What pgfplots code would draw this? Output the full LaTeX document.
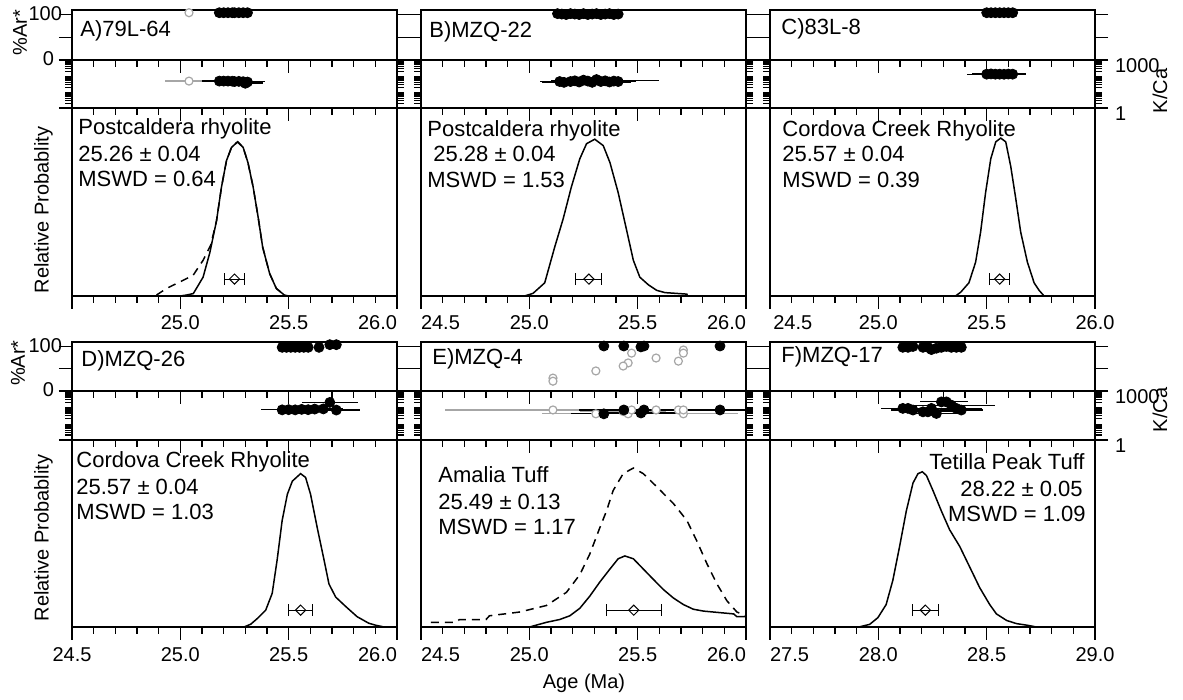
\documentclass[border=0pt]{standalone}
\usepackage{fontspec}
\setmainfont{Liberation Sans}
\usepackage{pgfplots}
\pgfplotsset{compat=1.18}

\newcommand\tf{\fontsize{10bp}{12bp}\selectfont}
\newcommand\tb{\fontsize{11bp}{13bp}\selectfont}

\pgfplotsset{
  panel/.style={scale only axis, width=162.5bp, anchor=north west,
    axis line style={line width=0.9bp},
    tick style={line width=0.6bp, black},
    tick align=outside, major tick length=6.5bp, minor tick length=3.5bp,
    xtick pos=bottom, ytick pos=both,
    xmin=24.5, xmax=26, xtick={24.5,25,25.5,26}, minor x tick num=4,
    xticklabels={}, yticklabels={}, ticklabel style={font=\tf}},
  late/.style={xmin=27.5, xmax=29, xtick={27.5,28,28.5,29}},
  ar/.style={panel, height=25bp, ymin=0, ymax=110, ytick={0,50,100}, clip=false},
  arlab/.style={yticklabel pos=left, yticklabels={{0\kern4bp},,100},
    yticklabel style={xshift=5bp, yshift=0.5bp}},
  kca/.style={panel, height=24bp, ymin=1, ymax=1000, ytick={1,1000},
    minor ytick={2,3,4,5,6,7,8,9,20,30,40,50,60,70,80,90,200,300,400,500,600,700,800,900}},
  kcalab/.style={yticklabel pos=right, yticklabels={1,1000}, yticklabel style={yshift=-3bp}},
  prob/.style={panel, height=94bp, ymin=0, ymax=1, ytick=\empty},
  blk/.style={only marks, mark=*, mark size=2.5bp, mark options={fill=black, draw=black}},
  gry/.style={only marks, mark=*, mark size=2bp,
    mark options={fill=white, draw=gray!70, line width=0.6bp}},
  blkbar/.style={blk, error bars/x dir=both, error bars/x explicit,
    error bars/error mark=none, error bars/error bar style={line width=0.6bp, black}},
  grybar/.style={gry, error bars/x dir=both, error bars/x explicit,
    error bars/error mark=none, error bars/error bar style={line width=0.6bp, gray!70}},
  dia/.style={only marks, mark=square, mark size=1.8bp,
    mark options={rotate=45, fill=white, draw=black, line width=0.5bp},
    error bars/x dir=both, error bars/x explicit, error bars/error mark=|,
    error bars/error mark options={line width=0.5bp, mark size=3bp, black},
    error bars/error bar style={line width=0.5bp, black}},
  pdf/.style={line width=0.75bp, black, no marks, sharp plot},
  pdfd/.style={pdf, dash pattern=on 4bp off 3bp},
}

\begin{document}
\begin{tikzpicture}
\useasboundingbox (0,0) rectangle (591.5bp,350bp);

% ---------- A) 79L-64
\begin{axis}[ar, arlab, at={(36bp,345bp)}]
\addplot[gry] coordinates {(25.04,104)};
\addplot[blk] coordinates {(25.18,104) (25.20,104) (25.22,104) (25.24,104) (25.25,104) (25.27,104) (25.29,104) (25.31,104)};
\end{axis}
\begin{semilogyaxis}[kca, at={(36bp,320bp)}]
\addplot[grybar] coordinates {(25.04,48) +- (0.11,0)};
\addplot[blkbar] coordinates {(25.18,48) +- (0.08,0) (25.20,48) +- (0.09,0) (25.22,48) +- (0.07,0)
  (25.24,47) +- (0.10,0) (25.25,45) +- (0.12,0) (25.27,46) +- (0.09,0) (25.29,44) +- (0.10,0)
  (25.30,35) +- (0.08,0) (25.31,42) +- (0.07,0)};
\end{semilogyaxis}
\begin{axis}[prob, at={(36bp,296bp)}, xticklabels={,25.0,25.5,{\llap{26.0}}}]
\addplot[pdfd] coordinates {(24.89,0.005) (24.936,0.04) (24.998,0.075) (25.059,0.11) (25.105,0.19)
  (25.14,0.27) (25.167,0.40) (25.19,0.58) (25.213,0.72) (25.236,0.79) (25.264,0.82) (25.29,0.79)
  (25.312,0.71) (25.336,0.58) (25.359,0.42) (25.38,0.26) (25.412,0.12) (25.443,0.04) (25.48,0.005)};
\addplot[pdf] coordinates {(25.00,0) (25.028,0.005) (25.06,0.013) (25.105,0.10) (25.136,0.23)
  (25.167,0.40) (25.19,0.58) (25.213,0.72) (25.236,0.79) (25.264,0.82) (25.29,0.79) (25.312,0.71)
  (25.336,0.58) (25.359,0.42) (25.38,0.26) (25.412,0.12) (25.443,0.04) (25.48,0.005) (25.50,0)};
\addplot[dia] coordinates {(25.25,0.09) +- (0.046,0)};
\end{axis}

% ---------- B) MZQ-22
\begin{axis}[ar, at={(210.5bp,345bp)}]
\addplot[blk] coordinates {(25.13,102) (25.15,101) (25.17,100) (25.19,102) (25.21,101) (25.23,100)
  (25.25,102) (25.27,100) (25.29,101) (25.31,102) (25.33,100) (25.35,101) (25.37,102) (25.39,100) (25.41,101)};
\end{axis}
\begin{semilogyaxis}[kca, at={(210.5bp,320bp)}]
\addplot[blkbar] coordinates {(25.14,45) +- (0.09,0) (25.16,40) +- (0.10,0) (25.19,45) +- (0.10,0)
  (25.21,50) +- (0.08,0) (25.23,42) +- (0.10,0) (25.25,55) +- (0.12,0) (25.27,48) +- (0.10,0)
  (25.29,40) +- (0.08,0) (25.31,60) +- (0.12,0) (25.33,45) +- (0.10,0) (25.35,50) +- (0.25,0)
  (25.37,42) +- (0.10,0) (25.39,48) +- (0.10,0) (25.41,45) +- (0.08,0)};
\end{semilogyaxis}
\begin{axis}[prob, at={(210.5bp,296bp)}, xticklabels={{\rlap{24.5}},25.0,25.5,{\llap{26.0}}}]
\addplot[pdf] coordinates {(24.978,0) (25.017,0.014) (25.071,0.07) (25.117,0.26) (25.156,0.41)
  (25.194,0.58) (25.233,0.73) (25.264,0.81) (25.302,0.834) (25.341,0.80) (25.372,0.71) (25.41,0.55)
  (25.449,0.35) (25.48,0.19) (25.51,0.10) (25.549,0.06) (25.588,0.03) (25.626,0.018) (25.727,0.01) (25.73,0)};
\addplot[dia] coordinates {(25.275,0.09) +- (0.06,0)};
\end{axis}

% ---------- C) 83L-8
\begin{axis}[ar, at={(385bp,345bp)}]
\addplot[blk] coordinates {(25.50,104) (25.52,104) (25.54,104) (25.56,104) (25.58,104) (25.60,104) (25.62,104)};
\end{axis}
\begin{semilogyaxis}[kca, kcalab, at={(385bp,320bp)}]
\addplot[blkbar] coordinates {(25.50,130) +- (0.09,0) (25.52,135) +- (0.09,0) (25.54,130) +- (0.08,0)
  (25.56,130) +- (0.10,0) (25.58,128) +- (0.09,0) (25.60,132) +- (0.08,0) (25.62,130) +- (0.06,0)};
\end{semilogyaxis}
\begin{axis}[prob, at={(385bp,296bp)}, xticklabels={{\rlap{\,24.5}},25.0,25.5,26.0}]
\addplot[pdf] coordinates {(25.356,0) (25.38,0.02) (25.418,0.07) (25.449,0.18) (25.472,0.34)
  (25.495,0.55) (25.519,0.73) (25.542,0.82) (25.565,0.84) (25.588,0.82) (25.611,0.69) (25.634,0.52)
  (25.657,0.34) (25.688,0.18) (25.719,0.07) (25.742,0.03) (25.765,0)};
\addplot[dia] coordinates {(25.56,0.09) +- (0.046,0)};
\end{axis}

% ---------- D) MZQ-26
\begin{axis}[ar, arlab, height=24.5bp, at={(36bp,179bp)}]
\addplot[blk] coordinates {(25.47,98) (25.49,98) (25.51,98) (25.53,98) (25.55,98) (25.57,98)
  (25.59,98) (25.64,98) (25.69,104) (25.72,104)};
\end{axis}
\begin{semilogyaxis}[kca, height=24.5bp, at={(36bp,154.5bp)}]
\addplot[blkbar] coordinates {(25.47,70) +- (0.10,0) (25.50,72) +- (0.12,0) (25.53,70) +- (0.08,0)
  (25.56,75) +- (0.10,0) (25.59,72) +- (0.10,0) (25.62,78) +- (0.08,0) (25.66,80) +- (0.09,0)
  (25.69,200) +- (0.13,0) (25.72,68) +- (0.11,0)};
\end{semilogyaxis}
\begin{axis}[prob, height=93.5bp, at={(36bp,130bp)}, xticklabels={24.5,25.0,25.5,{\llap{26.0}}}]
\addplot[pdf] coordinates {(25.294,0) (25.325,0.015) (25.355,0.045) (25.394,0.09) (25.424,0.18)
  (25.447,0.36) (25.47,0.57) (25.494,0.71) (25.517,0.78) (25.555,0.82) (25.578,0.80) (25.601,0.71)
  (25.632,0.53) (25.663,0.36) (25.686,0.23) (25.717,0.16) (25.763,0.11) (25.816,0.055) (25.87,0.02)
  (25.9,0.01) (25.94,0)};
\addplot[dia] coordinates {(25.555,0.09) +- (0.057,0)};
\end{axis}

% ---------- E) MZQ-4
\begin{axis}[ar, height=24.5bp, at={(210.5bp,179bp)}]
\addplot[gry] coordinates {(25.472,85) (25.711,92) (25.711,85) (25.456,63) (25.433,56) (25.585,74)
  (25.688,67) (25.307,45) (25.109,29) (25.109,22)};
\addplot[blk] coordinates {(25.344,101) (25.436,101) (25.515,99) (25.529,101) (25.88,101)};
\end{axis}
\begin{semilogyaxis}[kca, height=24.5bp, at={(210.5bp,154.5bp)}]
\addplot[grybar] coordinates {(25.109,69) +- (0.50,0) (25.307,40) +- (0.25,0) (25.456,40) +- (0.39,0)
  (25.472,69) +- (0.20,0) (25.585,69) +- (0.25,0) (25.688,69) +- (0.20,0) (25.711,40) +- (0.25,0)
  (25.711,69) +- (0.15,0) (25.433,55) +- (0.20,0)};
\addplot[blkbar] coordinates {(25.344,40) +- (0.15,0) (25.436,69) +- (0.20,0) (25.515,45) +- (0.20,0)
  (25.529,69) +- (0.30,0) (25.88,69) +- (0.35,0)};
\end{semilogyaxis}
\begin{axis}[prob, height=93.5bp, at={(210.5bp,130bp)}, xticklabels={{\rlap{24.5}},25.0,25.5,{\llap{26.0}}}]
\addplot[pdfd] coordinates {(24.546,0.025) (24.662,0.025) (24.677,0.04) (24.8,0.04) (24.816,0.06)
  (24.955,0.08) (25.079,0.115) (25.171,0.185) (25.233,0.28) (25.279,0.39) (25.325,0.53) (25.356,0.62)
  (25.387,0.73) (25.433,0.82) (25.48,0.85) (25.526,0.82) (25.588,0.75) (25.665,0.66) (25.727,0.57)
  (25.773,0.46) (25.819,0.34) (25.866,0.23) (25.912,0.14) (25.958,0.08) (26.0,0.06)};
\addplot[pdf] coordinates {(25.001,0) (25.079,0.025) (25.14,0.04) (25.187,0.06) (25.233,0.10)
  (25.279,0.165) (25.325,0.24) (25.372,0.31) (25.41,0.365) (25.441,0.38) (25.48,0.365) (25.526,0.31)
  (25.572,0.255) (25.619,0.20) (25.665,0.155) (25.711,0.12) (25.757,0.095) (25.804,0.085) (25.85,0.08)
  (25.943,0.07) (25.958,0.055) (26.0,0.055)};
\addplot[dia] coordinates {(25.482,0.09) +- (0.126,0)};
\end{axis}

% ---------- F) MZQ-17
\begin{axis}[ar, late, height=24.5bp, at={(385bp,179bp)}]
\addplot[blk] coordinates {(28.113,98) (28.137,98) (28.16,100) (28.206,98) (28.229,98) (28.245,93)
  (28.268,96) (28.291,98) (28.314,100) (28.337,98) (28.36,98) (28.383,98)};
\end{axis}
\begin{semilogyaxis}[kca, kcalab, late, height=24.5bp, at={(385bp,154.5bp)}]
\addplot[blkbar] coordinates {(28.113,86) +- (0.10,0) (28.137,86) +- (0.10,0) (28.16,68) +- (0.10,0)
  (28.206,53) +- (0.10,0) (28.229,53) +- (0.12,0) (28.245,86) +- (0.10,0) (28.268,42) +- (0.10,0)
  (28.291,215) +- (0.10,0) (28.314,215) +- (0.10,0) (28.337,136) +- (0.20,0) (28.36,86) +- (0.12,0)
  (28.383,68) +- (0.10,0)};
\end{semilogyaxis}
\begin{axis}[prob, late, height=93.5bp, at={(385bp,130bp)}, xticklabels={{\rlap{27.5}},28.0,28.5,29.0}]
\addplot[pdf] coordinates {(27.91,0) (27.96,0.014) (27.998,0.05) (28.036,0.12) (28.067,0.25)
  (28.098,0.43) (28.129,0.62) (28.16,0.77) (28.183,0.82) (28.203,0.83) (28.222,0.81) (28.252,0.73)
  (28.291,0.62) (28.329,0.52) (28.376,0.43) (28.422,0.32) (28.468,0.21) (28.514,0.12) (28.545,0.07)
  (28.592,0.035) (28.638,0.018) (28.684,0.01) (28.73,0)};
\addplot[dia] coordinates {(28.217,0.09) +- (0.059,0)};
\end{axis}

% ---------- texts
\begin{scope}[every node/.style={font=\tb, inner sep=0pt}]
\node[anchor=base west] at (40bp,331.5bp) {A)79L-64};
\node[anchor=base west] at (39bp,282.5bp) {Postcaldera rhyolite};
\node[anchor=base west] at (39bp,269bp) {25.26 ± 0.04};
\node[anchor=base west] at (39bp,256.5bp) {MSWD = 0.64};
\node[anchor=base west] at (214.5bp,331bp) {B)MZQ-22};
\node[anchor=base west] at (213.5bp,281.5bp) {Postcaldera rhyolite};
\node[anchor=base west] at (216.5bp,269bp) {25.28 ± 0.04};
\node[anchor=base west] at (213.5bp,256bp) {MSWD = 1.53};
\node[anchor=base west] at (390.5bp,332.5bp) {C)83L-8};
\node[anchor=base west] at (391bp,281.5bp) {Cordova Creek Rhyolite};
\node[anchor=base west] at (391bp,269bp) {25.57 ± 0.04};
\node[anchor=base west] at (391bp,256bp) {MSWD = 0.39};
\node[anchor=base west] at (40.5bp,166.5bp) {D)MZQ-26};
\node[anchor=base west] at (38bp,116bp) {Cordova Creek Rhyolite};
\node[anchor=base west] at (38bp,102.5bp) {25.57 ± 0.04};
\node[anchor=base west] at (38bp,90bp) {MSWD = 1.03};
\node[anchor=base west] at (216bp,167.5bp) {E)MZQ-4};
\node[anchor=base west] at (219bp,108.5bp) {Amalia Tuff};
\node[anchor=base west] at (219bp,95bp) {25.49 ± 0.13};
\node[anchor=base west] at (219bp,82.5bp) {MSWD = 1.17};
\node[anchor=base west] at (390.5bp,168.5bp) {F)MZQ-17};
\node[anchor=base east] at (542.5bp,115bp) {Tetilla Peak Tuff};
\node[anchor=base east] at (541.5bp,101.5bp) {28.22 ± 0.05};
\node[anchor=base east] at (543bp,89bp) {MSWD = 1.09};
\end{scope}
\begin{scope}[every node/.style={font=\tf, inner sep=0pt}]
\node[rotate=90] at (10bp,333.5bp) {\%Ar*};
\node[rotate=90] at (9bp,168.5bp) {\%Ar*};
\node[rotate=90] at (21.75bp,245bp) {Relative Probablity};
\node[rotate=90] at (21.75bp,81bp) {Relative Probablity};
\node[rotate=90] at (580bp,304.5bp) {K/Ca};
\node[rotate=90] at (580bp,145bp) {K/Ca};
\node at (292bp,8.5bp) {Age (Ma)};
\end{scope}
\end{tikzpicture}
\end{document}
